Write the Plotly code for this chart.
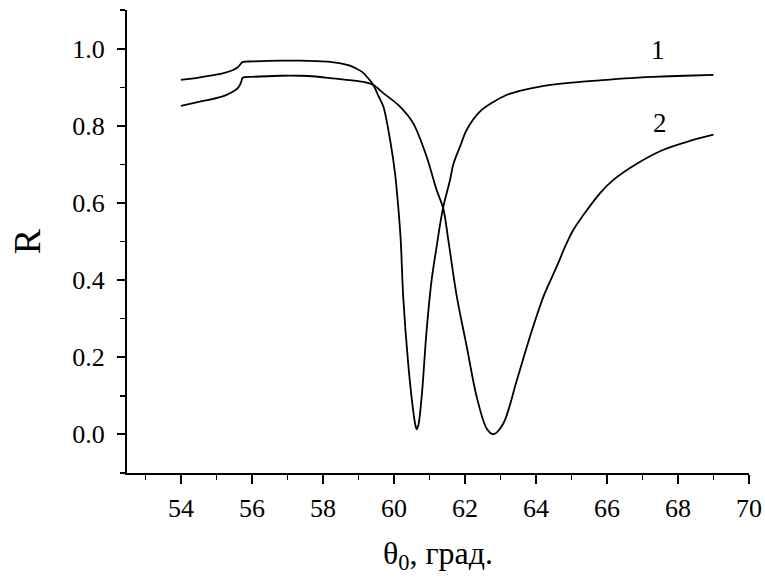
import plotly.graph_objects as go

# Curve 1 (narrow resonance)
theta1 = [54.0, 54.5, 54.82, 55.2, 55.47, 55.60, 55.66, 55.70, 55.74, 56.0, 56.8, 57.35,
          57.8, 58.2, 58.5, 58.76, 58.95, 59.1, 59.23, 59.42, 59.55, 59.70, 59.89, 60.03,
          60.12, 60.19, 60.26, 60.40, 60.54, 60.60, 60.64, 60.69, 60.78, 60.92, 61.06,
          61.20, 61.30, 61.39, 61.58, 61.67, 61.86, 62.05, 62.42, 62.8, 63.17, 63.6,
          64.11, 65.0, 65.8, 66.5, 67.3, 68.2, 69.0]
R1 = [0.919, 0.925, 0.930, 0.937, 0.945, 0.952, 0.958, 0.963, 0.966, 0.967, 0.969, 0.969,
      0.968, 0.966, 0.962, 0.956, 0.948, 0.940, 0.928, 0.906, 0.880, 0.850, 0.764, 0.677,
      0.590, 0.504, 0.357, 0.184, 0.062, 0.025, 0.013, 0.025, 0.097, 0.270, 0.400,
      0.486, 0.545, 0.590, 0.660, 0.700, 0.746, 0.790, 0.837, 0.862, 0.880, 0.892,
      0.902, 0.912, 0.918, 0.923, 0.927, 0.930, 0.932]

# Curve 2 (broad resonance)
theta2 = [54.0, 54.5, 54.82, 55.2, 55.47, 55.60, 55.66, 55.70, 55.74, 56.0, 56.8, 57.35,
          57.8, 58.2, 58.6, 59.14, 59.42, 59.70, 60.17, 60.54, 60.92, 61.20, 61.39, 61.53,
          61.77, 62.05, 62.33, 62.61, 62.80, 63.08, 63.46, 63.83, 64.21, 64.58, 64.86,
          65.05, 65.8, 66.18, 66.9, 67.59, 68.3, 69.0]
R2 = [0.852, 0.862, 0.868, 0.877, 0.889, 0.898, 0.906, 0.915, 0.925, 0.927, 0.930, 0.930,
      0.928, 0.924, 0.920, 0.914, 0.906, 0.885, 0.850, 0.807, 0.720, 0.634, 0.585, 0.504,
      0.357, 0.227, 0.097, 0.015, 0.000, 0.028, 0.140, 0.253, 0.357, 0.434, 0.495,
      0.530, 0.625, 0.660, 0.705, 0.738, 0.760, 0.777]

curve_labels = ["1", "2"]
x_ticks = list(range(54, 71, 2))
y_ticks = [0.0, 0.2, 0.4, 0.6, 0.8, 1.0]

FONT = "Liberation Serif"

fig = go.Figure()
for th, r in [(theta1, R1), (theta2, R2)]:
    fig.add_trace(go.Scatter(x=th, y=r, mode="lines",
                             line=dict(color="black", width=1.8, shape="spline", smoothing=0.9),
                             showlegend=False, hoverinfo="skip"))

fig.add_annotation(x=67.44, y=0.997, text=curve_labels[0], showarrow=False,
                   font=dict(family=FONT, size=27, color="black"))
fig.add_annotation(x=67.5, y=0.808, text=curve_labels[1], showarrow=False,
                   font=dict(family=FONT, size=27, color="black"))

fig.update_layout(
    width=765, height=581,
    margin=dict(l=127, r=16, t=10, b=108),
    paper_bgcolor="white", plot_bgcolor="white",
    font=dict(family=FONT, color="black", size=26),
)
fig.update_xaxes(
    range=[52.48, 70], tickvals=x_ticks, ticktext=[str(v) for v in x_ticks],
    automargin=False,
    showgrid=False, zeroline=False, showline=True, linecolor="black", linewidth=2,
    ticks="outside", ticklen=9, tickwidth=1.6, tickcolor="black",
    tickfont=dict(family=FONT, size=26, color="black"), ticklabelstandoff=2,
    minor=dict(dtick=1, tick0=53, ticks="outside", ticklen=5, tickwidth=1.6, tickcolor="black", showgrid=False),
    title=dict(text="θ<sub>0</sub>, град.", font=dict(family=FONT, size=32, color="black"), standoff=19),
)
fig.update_yaxes(
    range=[-0.1005, 1.1005], tickvals=y_ticks, ticktext=[f"{v:.1f}" for v in y_ticks],
    automargin=False,
    showgrid=False, zeroline=False, showline=True, linecolor="black", linewidth=2,
    ticks="outside", ticklen=8, tickwidth=1.6, tickcolor="black",
    tickfont=dict(family=FONT, size=26, color="black"), ticklabelstandoff=7,
    minor=dict(dtick=0.1, tick0=-0.1, ticks="outside", ticklen=5, tickwidth=1.6, tickcolor="black", showgrid=False),
    title=dict(text="R", font=dict(family=FONT, size=38, color="black"), standoff=20),
)

# Remove the page's default body margin so the figure fills the window exactly.
fig.write_html("out.html",
               config={"displayModeBar": False, "staticPlot": True},
               post_script="document.body.style.margin='0';document.body.style.overflow='hidden';")
